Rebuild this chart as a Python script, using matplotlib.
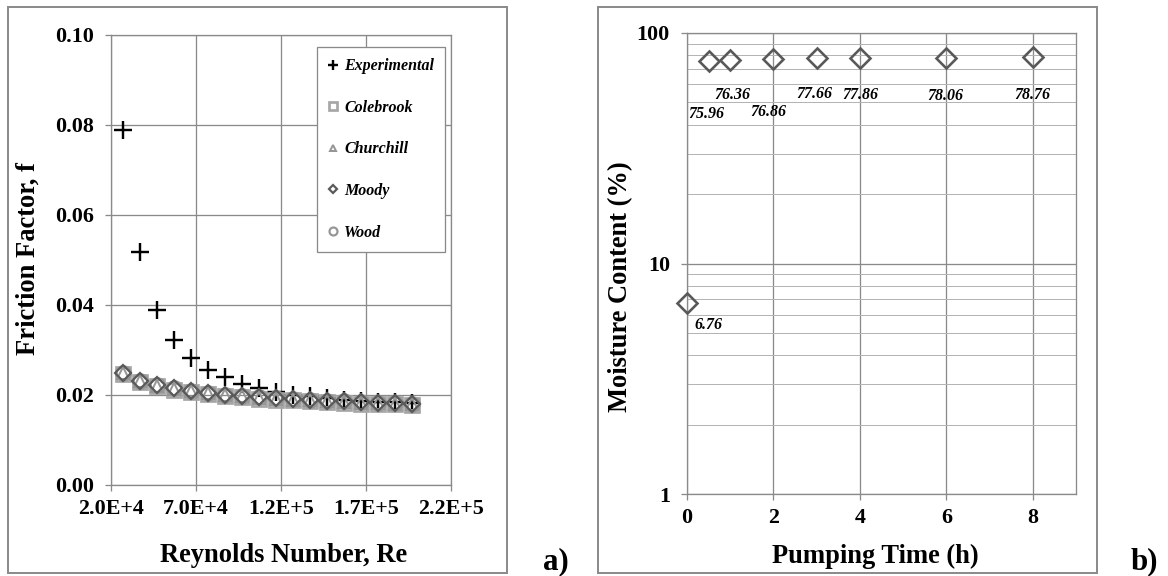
import matplotlib
matplotlib.use("Agg")
import matplotlib.pyplot as plt
from matplotlib.patches import Rectangle
from matplotlib.ticker import FixedLocator, NullFormatter

# ---------------- data ----------------
reynolds = [27000, 37000, 47000, 57000, 67000, 77000, 87000, 97000, 107000,
            117000, 127000, 137000, 147000, 157000, 167000, 177000, 187000, 197000]
f_experimental = [0.0790, 0.0518, 0.0390, 0.0323, 0.0282, 0.0256, 0.0239, 0.0224, 0.0215,
                  0.0207, 0.0201, 0.0198, 0.0193, 0.0190, 0.0187, 0.0185, 0.0184, 0.0182]
f_colebrook = [0.0246, 0.0229, 0.0219, 0.0212, 0.0206, 0.0202, 0.0198, 0.0195, 0.0192,
               0.0190, 0.0188, 0.0186, 0.0184, 0.0183, 0.0181, 0.0180, 0.0179, 0.0178]
f_churchill = [0.0248, 0.0231, 0.0221, 0.0214, 0.0208, 0.0204, 0.0200, 0.0197, 0.0194,
               0.0192, 0.0190, 0.0188, 0.0186, 0.0185, 0.0183, 0.0182, 0.0181, 0.0180]
f_moody = [0.0249, 0.0232, 0.0222, 0.0215, 0.0209, 0.0205, 0.0201, 0.0198, 0.0195,
           0.0193, 0.0191, 0.0189, 0.0187, 0.0186, 0.0184, 0.0183, 0.0182, 0.0181]
f_wood = [0.0249, 0.0232, 0.0222, 0.0215, 0.0209, 0.0205, 0.0201, 0.0198, 0.0195,
          0.0193, 0.0191, 0.0189, 0.0187, 0.0186, 0.0184, 0.0183, 0.0182, 0.0181]

re_ticks = [20000, 70000, 120000, 170000, 220000]
re_tick_labels = ["2.0E+4", "7.0E+4", "1.2E+5", "1.7E+5", "2.2E+5"]
f_ticks = [0.00, 0.02, 0.04, 0.06, 0.08, 0.10]
f_tick_labels = ["0.00", "0.02", "0.04", "0.06", "0.08", "0.10"]

pumping_time = [0, 0.5, 1, 2, 3, 4, 6, 8]
moisture = [6.76, 75.96, 76.36, 76.86, 77.66, 77.86, 78.06, 78.76]
time_ticks = [0, 2, 4, 6, 8]
moisture_ticks = [1, 10, 100]
moisture_tick_labels = ["1", "10", "100"]

# label offsets (pixels right, pixels down) for the moisture value labels
label_offsets = [(21, 22), (-2, 53), (2, 35), (-5, 53), (-2, 36), (0, 37), (-1, 38), (0, 38)]

# ---------------- style ----------------
W, H = 1168, 576
DPI = 72
GRID = "#8a8a8a"
FRAME = "#8c8c8c"
plt.rcParams["font.family"] = ["Liberation Serif", "DejaVu Serif"]
plt.rcParams["font.weight"] = "bold"


def fx(px):
    return px / W


def fy(py):
    return 1 - py / H


fig = plt.figure(figsize=(W / DPI, H / DPI), dpi=DPI)
fig.patch.set_facecolor("white")

# outer frames around each panel
for x0, x1 in [(7.5, 507), (598, 1097)]:
    fig.patches.append(Rectangle((fx(x0), fy(573)), fx(x1) - fx(x0), fy(6.5) - fy(573),
                                 transform=fig.transFigure, fill=False,
                                 edgecolor=FRAME, linewidth=2))


def style_axes(ax):
    for sp in ax.spines.values():
        sp.set_color(GRID)
        sp.set_linewidth(1.3)
    ax.tick_params(which="major", direction="out", length=6, width=1.3, color=GRID,
                   labelsize=22)
    ax.tick_params(axis="y", pad=11)
    ax.tick_params(axis="x", pad=8)
    ax.tick_params(which="minor", length=0)
    for lab in ax.get_xticklabels() + ax.get_yticklabels():
        lab.set_fontweight("bold")


# ---------------- panel a) ----------------
ax1 = fig.add_axes([fx(111), fy(485), fx(451) - fx(111), fy(35) - fy(485)])
ax1.set_xlim(20000, 220000)
ax1.set_ylim(0, 0.10)
ax1.set_xticks(re_ticks)
ax1.set_xticklabels(re_tick_labels)
ax1.set_yticks(f_ticks)
ax1.set_yticklabels(f_tick_labels)
ax1.grid(True, color=GRID, linewidth=1.3)
ax1.set_axisbelow(True)
style_axes(ax1)

ax1.plot(reynolds, f_experimental, linestyle="none", marker="+", markersize=18,
         markeredgewidth=2.4, color="black", label="Experimental", zorder=3)
ax1.plot(reynolds, f_colebrook, linestyle="none", marker="s", markersize=14.5,
         markeredgewidth=2.7, markerfacecolor="none", markeredgecolor="#a6a6a6",
         label="Colebrook", zorder=4)
ax1.plot(reynolds, f_churchill, linestyle="none", marker="^", markersize=12.5,
         markeredgewidth=2.0, markerfacecolor="none", markeredgecolor="#969696",
         label="Churchill", zorder=4)
ax1.plot(reynolds, f_moody, linestyle="none", marker="D", markersize=11,
         markeredgewidth=2.2, markerfacecolor="none", markeredgecolor="#595959",
         label="Moody", zorder=5)
ax1.plot(reynolds, f_wood, linestyle="none", marker="o", markersize=14.5,
         markeredgewidth=2.2, markerfacecolor="none", markeredgecolor="#969696",
         label="Wood", zorder=4)

leg = ax1.legend(loc="upper left", bbox_to_anchor=(fx(317), fy(47)),
                 bbox_transform=fig.transFigure, borderaxespad=0,
                 prop={"family": "Liberation Serif", "style": "italic",
                       "weight": "bold", "size": 16},
                 markerscale=0.55, handlelength=0.55, handletextpad=0.45,
                 labelspacing=1.6, borderpad=0.7, numpoints=1,
                 fancybox=False, framealpha=1, edgecolor=GRID)
leg.get_frame().set_linewidth(1.3)

fig.text(fx(28), fy(259), "Friction Factor, f", rotation=90, ha="center", va="center",
         fontsize=26.5, fontweight="bold")
fig.text(fx(284), fy(555), "Reynolds Number, Re", ha="center", va="center",
         fontsize=26.5, fontweight="bold")
fig.text(fx(556), fy(569), "a)", ha="center", va="baseline", fontsize=31,
         fontweight="bold")

# ---------------- panel b) ----------------
ax2 = fig.add_axes([fx(687), fy(494), fx(1076) - fx(687), fy(33) - fy(494)])
ax2.set_yscale("log")
ax2.set_xlim(0, 9)
ax2.set_ylim(1, 100)
ax2.set_xticks(time_ticks)
ax2.set_xticklabels([str(t) for t in time_ticks])
ax2.yaxis.set_major_locator(FixedLocator(moisture_ticks))
ax2.set_yticklabels(moisture_tick_labels)
ax2.yaxis.set_minor_locator(FixedLocator([m * d for d in (1, 10) for m in range(2, 10)]))
ax2.yaxis.set_minor_formatter(NullFormatter())
ax2.grid(True, which="major", color=GRID, linewidth=1.3)
ax2.grid(True, which="minor", axis="y", color="#b4b4b4", linewidth=1.0)
ax2.set_axisbelow(True)
style_axes(ax2)

ax2.plot(pumping_time, moisture, linestyle="none", marker="D", markersize=14,
         markeredgewidth=2.6, markerfacecolor="none", markeredgecolor="#595959",
         zorder=4, clip_on=False)

for t, m, (dx, dy) in zip(pumping_time, moisture, label_offsets):
    ax2.annotate(f"{m:.2f}", (t, m), xytext=(dx, -dy), textcoords="offset points",
                 ha="center", va="center", fontsize=16, fontstyle="italic",
                 fontweight="bold", family="Liberation Serif")

fig.text(fx(621), fy(287), "Moisture Content (%)", rotation=90, ha="center",
         va="center", fontsize=26.5, fontweight="bold")
fig.text(fx(875), fy(556), "Pumping Time (h)", ha="center", va="center",
         fontsize=26.5, fontweight="bold")
fig.text(fx(1144), fy(569), "b)", ha="center", va="baseline", fontsize=31,
         fontweight="bold")

fig.savefig("out.png", dpi=DPI, facecolor="white")
